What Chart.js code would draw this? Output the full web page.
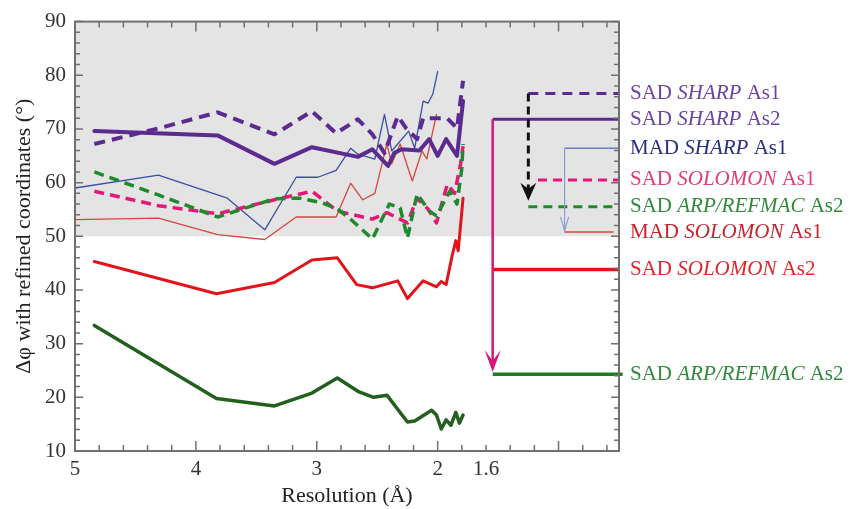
<!DOCTYPE html>
<html>
<head>
<meta charset="utf-8">
<script src="https://cdn.jsdelivr.net/npm/chart.js@4.4.0/dist/chart.umd.min.js"></script>
<style>
  html, body { margin: 0; padding: 0; background: #fff; }
</style>
</head>
<body>
<canvas id="chart" width="850" height="509"></canvas>
<script>
// Resolution (Å) and phase error (°) for each series
const sadSharpAs1Res = [4.84, 4.31, 3.82, 3.35, 3.04, 2.84, 2.66, 2.54, 2.44, 2.33, 2.26, 2.17, 2.12, 2.01, 1.92, 1.84, 1.79];
const sadSharpAs1Phi = [67.2, 70.1, 73.1, 69.0, 73.3, 69.2, 71.8, 69.0, 65.5, 72.4, 70.1, 68.1, 72.0, 72.0, 72.0, 70.1, 79.0];

const sadSharpAs2Res = [4.84, 3.82, 3.35, 3.04, 2.66, 2.54, 2.41, 2.36, 2.30, 2.15, 2.07, 2.00, 1.93, 1.84, 1.79];
const sadSharpAs2Phi = [69.6, 68.8, 63.5, 66.6, 64.8, 66.2, 63.1, 65.5, 66.2, 66.0, 68.1, 65.0, 68.1, 65.0, 75.2];

const madSharpAs1Res = [5.00, 4.31, 3.74, 3.43, 3.17, 2.99, 2.84, 2.72, 2.66, 2.52, 2.44, 2.38, 2.24, 2.19, 2.12, 2.08, 2.04, 2.00];
const madSharpAs1Phi = [59.0, 61.4, 57.1, 51.2, 61.0, 61.0, 62.3, 66.4, 65.3, 64.4, 72.7, 65.9, 69.6, 66.4, 75.2, 74.8, 76.5, 80.7];

const sadSolomonAs1Res = [4.84, 4.31, 3.82, 3.35, 3.04, 2.83, 2.54, 2.42, 2.25, 2.17, 2.08, 2.01, 1.92, 1.86, 1.81, 1.79];
const sadSolomonAs1Phi = [58.4, 55.7, 54.2, 56.8, 58.4, 54.7, 53.2, 54.4, 52.5, 57.1, 55.1, 52.5, 59.7, 58.0, 63.5, 66.8];

const arpDashedRes = [4.84, 4.31, 3.82, 3.35, 3.14, 2.95, 2.83, 2.73, 2.54, 2.40, 2.31, 2.25, 2.17, 2.07, 2.01, 1.90, 1.84, 1.80, 1.79];
const arpDashedPhi = [62.0, 57.7, 53.6, 57.0, 57.1, 56.2, 55.1, 53.4, 49.5, 56.0, 55.3, 49.7, 57.9, 54.7, 53.8, 58.4, 56.0, 62.7, 67.2];

const madSolomonAs1Res = [5.00, 4.31, 3.82, 3.43, 3.17, 2.84, 2.72, 2.62, 2.52, 2.42, 2.38, 2.31, 2.21, 2.13, 2.09, 2.01];
const madSolomonAs1Phi = [53.1, 53.4, 50.3, 49.4, 53.6, 53.6, 59.9, 56.8, 58.0, 67.2, 63.5, 67.2, 60.3, 65.9, 64.4, 72.7];

const sadSolomonAs2Res = [4.84, 3.83, 3.35, 3.04, 2.83, 2.67, 2.54, 2.33, 2.25, 2.12, 2.01, 1.97, 1.93, 1.88, 1.85, 1.83, 1.79];
const sadSolomonAs2Phi = [45.3, 39.3, 41.4, 45.6, 46.0, 41.0, 40.4, 41.7, 38.4, 41.7, 40.6, 41.6, 41.0, 46.4, 49.2, 47.3, 57.1];

const arpSolidRes = [4.84, 3.83, 3.35, 3.04, 2.83, 2.65, 2.53, 2.42, 2.25, 2.19, 2.05, 2.01, 1.97, 1.93, 1.89, 1.85, 1.82, 1.79];
const arpSolidPhi = [33.4, 19.8, 18.4, 20.8, 23.6, 21.0, 20.0, 20.4, 15.4, 15.6, 17.6, 16.7, 14.1, 15.8, 14.8, 17.2, 15.2, 16.7];

// Final values shown on the right, top to bottom
const labelMethod  = ['SAD', 'SAD', 'MAD', 'SAD', 'SAD', 'MAD', 'SAD', 'SAD'];
const labelProgram = ['SHARP', 'SHARP', 'SHARP', 'SOLOMON', 'ARP/REFMAC', 'SOLOMON', 'SOLOMON', 'ARP/REFMAC'];
const labelSite    = ['As1', 'As2', 'As1', 'As1', 'As2', 'As1', 'As2', 'As2'];
const finalPhi     = [76.6, 71.8, 66.4, 60.5, 55.5, 50.8, 43.8, 24.3];
const finalFromRes = [1.25, 1.545, 0.95, 1.17, 1.25, 0.95, 1.545, 1.545];
const finalToRes   = [0.5, 0.5, 0.5, 0.5, 0.5, 0.545, 0.5, 0.47];

// Arrows between final values
const arrowRes     = [1.25, 1.545, 0.95];
const arrowFromPhi = [76.6, 71.8, 66.4];
const arrowToPhi   = [56.6, 24.7, 51.0];

// Axis ticks
const resTicks = [5, 4, 3, 2, 1.6];
const phiMin = 10, phiMax = 90, phiStep = 10;
const shadeFrom = 50, shadeTo = 90;

function pts(xs, ys) {
    return xs.map((x, i) => ({ x: x, y: ys[i] }));
}

const SERIF = '"Liberation Serif", "Times New Roman", serif';
const purple = '#5b2b8f';

// Series styles (top-most first)
const seriesDefs = [
    { res: arpSolidRes, phi: arpSolidPhi, color: '#23601f', width: 3.5 },
    { res: sadSolomonAs2Res, phi: sadSolomonAs2Phi, color: '#e1141c', width: 3 },
    { res: sadSharpAs2Res, phi: sadSharpAs2Phi, color: purple, width: 4 },
    { res: sadSharpAs1Res, phi: sadSharpAs1Phi, color: purple, width: 4, dash: [11, 7] },
    { res: arpDashedRes, phi: arpDashedPhi, color: '#1f8a2c', width: 3.5, dash: [10, 6] },
    { res: sadSolomonAs1Res, phi: sadSolomonAs1Phi, color: '#e5187a', width: 3.5, dash: [10, 6] },
    { res: madSharpAs1Res, phi: madSharpAs1Phi, color: '#3c4ea3', width: 1.3 },
    { res: madSolomonAs1Res, phi: madSolomonAs1Phi, color: '#d5473f', width: 1.3 }
];

// Styles for the right-hand final-value segments and labels
const finalStyles = [
    { color: purple, width: 3, dash: [10, 7], text: '#6d42a3' },
    { color: purple, width: 3, text: '#6d42a3' },
    { color: '#6a7cc4', width: 1.5, text: '#2a2e7e' },
    { color: '#e5187a', width: 3, dash: [9, 6], text: '#e33b76' },
    { color: '#1f8a2c', width: 3, dash: [9, 6], text: '#2e8b3c' },
    { color: '#d5473f', width: 1.5, text: '#c2262c' },
    { color: '#e1141c', width: 3.5, text: '#e2242b' },
    { color: '#1f7a22', width: 3.5, text: '#2e8b3c' }
];
const arrowStyles = [
    { color: '#111111', width: 3, dash: [8, 5], head: 'solid' },
    { color: '#d8137a', width: 2.5, head: 'barb' },
    { color: '#8e9bd2', width: 1.2, head: 'open' }
];

const datasets = [];
seriesDefs.forEach(s => {
    datasets.push({
        data: pts(s.res, s.phi),
        borderColor: s.color,
        borderWidth: s.width,
        borderDash: s.dash || [],
        pointRadius: 0,
        tension: 0,
        borderJoinStyle: 'round',
        borderCapStyle: s.dash ? 'butt' : 'round'
    });
});
arrowRes.forEach((r, i) => {
    const st = arrowStyles[i];
    datasets.push({
        data: pts([r, r], [arrowFromPhi[i], arrowToPhi[i] + (st.head === 'open' ? 0 : 2)]),
        borderColor: st.color,
        borderWidth: st.width,
        borderDash: st.dash || [],
        pointRadius: 0
    });
});
finalPhi.forEach((v, i) => {
    const st = finalStyles[i];
    datasets.push({
        data: pts([finalFromRes[i], finalToRes[i]], [v, v]),
        borderColor: st.color,
        borderWidth: st.width,
        borderDash: st.dash || [],
        pointRadius: 0,
        clip: false
    });
});

// grey band behind the curves
const shadePlugin = {
    id: 'shade',
    beforeDatasetsDraw(chart) {
        const { ctx, chartArea: a, scales: { y } } = chart;
        const top = y.getPixelForValue(shadeTo);
        const bot = y.getPixelForValue(shadeFrom);
        ctx.save();
        ctx.fillStyle = '#e4e4e4';
        ctx.fillRect(a.left, top, a.right - a.left, bot - top);
        ctx.restore();
    }
};

// frame with inward ticks on all four sides
const framePlugin = {
    id: 'frame',
    afterDatasetsDraw(chart) {
        const { ctx, chartArea: a, scales: { x, y } } = chart;
        ctx.save();
        ctx.strokeStyle = '#707070';
        ctx.lineWidth = 1.5;
        ctx.beginPath();
        for (let k = 0; k <= 22; k++) {
            const v = 5 - k * 0.2;
            if (v < 0.55) break;
            const px = x.getPixelForValue(v);
            const len = Math.abs(v - Math.round(v)) < 1e-6 ? 10 : 6;
            ctx.moveTo(px, a.bottom); ctx.lineTo(px, a.bottom - len);
            ctx.moveTo(px, a.top); ctx.lineTo(px, a.top + len);
        }
        for (let v = phiMin; v <= phiMax; v += 2) {
            const py = y.getPixelForValue(v);
            const len = v % 10 === 0 ? 8 : 5;
            ctx.moveTo(a.left, py); ctx.lineTo(a.left + len, py);
            ctx.moveTo(a.right, py); ctx.lineTo(a.right - len, py);
        }
        ctx.stroke();
        ctx.lineWidth = 2;
        ctx.strokeRect(a.left, a.top, a.right - a.left, a.bottom - a.top);
        ctx.restore();
    }
};

// arrow heads and right-hand labels
const notePlugin = {
    id: 'notes',
    afterDraw(chart) {
        const { ctx, chartArea: a, scales: { x, y } } = chart;
        ctx.save();
        arrowRes.forEach((r, i) => {
            const st = arrowStyles[i];
            const px = x.getPixelForValue(r);
            const py = y.getPixelForValue(arrowToPhi[i]);
            ctx.fillStyle = st.color;
            ctx.strokeStyle = st.color;
            if (st.head === 'open') {
                ctx.lineWidth = 1.2;
                ctx.beginPath();
                ctx.moveTo(px - 4, py - 14); ctx.lineTo(px, py); ctx.lineTo(px + 4, py - 14);
                ctx.stroke();
            } else if (st.head === 'barb') {
                ctx.beginPath();
                ctx.moveTo(px, py);
                ctx.lineTo(px - 8, py - 22);
                ctx.lineTo(px, py - 11);
                ctx.lineTo(px + 8, py - 22);
                ctx.closePath();
                ctx.fill();
            } else {
                ctx.beginPath();
                ctx.moveTo(px, py);
                ctx.lineTo(px - 8, py - 18);
                ctx.lineTo(px, py - 12);
                ctx.lineTo(px + 8, py - 18);
                ctx.closePath();
                ctx.fill();
            }
        });

        ctx.textBaseline = 'middle';
        ctx.textAlign = 'left';
        finalPhi.forEach((v, i) => {
            const py = y.getPixelForValue(v);
            let px = a.right + 11;
            ctx.fillStyle = finalStyles[i].text;
            ctx.font = '21px ' + SERIF;
            const p1 = labelMethod[i] + ' ';
            ctx.fillText(p1, px, py);
            px += ctx.measureText(p1).width;
            ctx.font = 'italic 21px ' + SERIF;
            ctx.fillText(labelProgram[i], px, py);
            px += ctx.measureText(labelProgram[i]).width;
            ctx.font = '21px ' + SERIF;
            ctx.fillText(' ' + labelSite[i], px, py);
        });
        ctx.restore();
    }
};

const ctx = document.getElementById('chart').getContext('2d');
const phaseChart = new Chart(ctx, {
    type: 'line',
    data: { datasets: datasets },
    options: {
        responsive: false,
        animation: false,
        devicePixelRatio: 1,
        layout: { padding: { top: 20, right: 231, left: 0, bottom: 0 } },
        plugins: {
            legend: { display: false },
            tooltip: { enabled: false }
        },
        scales: {
            x: {
                type: 'linear',
                reverse: true,
                min: 0.5,
                max: 5,
                grid: { display: false, drawTicks: false },
                border: { display: false },
                afterBuildTicks: scale => {
                    scale.ticks = resTicks.map(v => ({ value: v }));
                },
                afterFit: scale => { scale.height = 58; },
                ticks: {
                    autoSkip: false,
                    maxRotation: 0,
                    padding: 6,
                    color: '#333',
                    font: { family: SERIF, size: 21 },
                    callback: v => String(v)
                },
                title: {
                    display: true,
                    text: 'Resolution (Å)',
                    color: '#222',
                    font: { family: SERIF, size: 22 },
                    padding: { top: 0, bottom: 0 }
                }
            },
            y: {
                min: phiMin,
                max: phiMax,
                grid: { display: false, drawTicks: false },
                border: { display: false },
                afterFit: scale => { scale.width = 75; },
                ticks: {
                    stepSize: phiStep,
                    padding: 9,
                    color: '#333',
                    font: { family: SERIF, size: 21 }
                },
                title: {
                    display: true,
                    text: 'Δφ with refined coordinates (°)',
                    color: '#222',
                    font: { family: SERIF, size: 22 },
                    padding: { top: 11, bottom: 0 }
                }
            }
        }
    },
    plugins: [shadePlugin, framePlugin, notePlugin]
});
</script>
</body>
</html>
